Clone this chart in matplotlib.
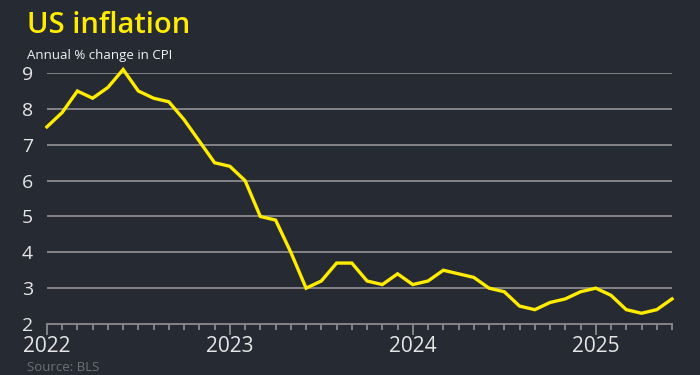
import numpy as np
import matplotlib.pyplot as plt

plt.rcParams['font.family'] = ['Open Sans', 'DejaVu Sans']

# monthly CPI, annual % change, Jan 2022 - Jun 2025
cpi_2022 = [7.5, 7.9, 8.5, 8.3, 8.6, 9.1, 8.5, 8.3, 8.2, 7.7, 7.1, 6.5]
cpi_2023 = [6.4, 6.0, 5.0, 4.9, 4.0, 3.0, 3.2, 3.7, 3.7, 3.2, 3.1, 3.4]
cpi_2024 = [3.1, 3.2, 3.5, 3.4, 3.3, 3.0, 2.9, 2.5, 2.4, 2.6, 2.7, 2.9]
cpi_2025 = [3.0, 2.8, 2.4, 2.3, 2.4, 2.7]
years = [2022, 2023, 2024, 2025]
y_ticks = [2, 3, 4, 5, 6, 7, 8, 9]

cpi = cpi_2022 + cpi_2023 + cpi_2024 + cpi_2025
months = np.arange(len(cpi))

bg = '#262a33'
yellow = '#ffec00'
grid_col = '#8a8a8e'

fig = plt.figure(figsize=(7, 3.75), dpi=100, facecolor=bg)
ax = fig.add_axes([0.067, 0.136, 0.893, 0.669], facecolor=bg)

for v in y_ticks[1:]:
    ax.axhline(v, color=grid_col, lw=1.3, zorder=1)

ax.plot(months, cpi, color=yellow, lw=2.4, zorder=3, clip_on=False, solid_joinstyle='miter')

ax.set_xlim(0, len(cpi) - 1)
ax.set_ylim(2, 9)

for s in ['top', 'right', 'left']:
    ax.spines[s].set_visible(False)
ax.spines['bottom'].set_color(grid_col)
ax.spines['bottom'].set_linewidth(1.3)

major = [(y - 2022) * 12 for y in years]
ax.set_xticks(major)
ax.set_xticklabels([str(y) for y in years])
ax.set_xticks(months, minor=True)
ax.tick_params(axis='x', which='major', length=8, width=1.3, color=grid_col,
               labelcolor='#e6e6e6', labelsize=15, pad=1)
ax.tick_params(axis='x', which='minor', length=4, width=1.3, color=grid_col)

ax.set_yticks(y_ticks)
ax.tick_params(axis='y', length=0, labelcolor='#e6e6e6', labelsize=14, pad=10)

fig.text(0.038, 0.932, 'US inflation', color=yellow, fontsize=21,
         fontweight='semibold', va='center', ha='left')
fig.text(0.038, 0.853, 'Annual % change in CPI', color='#f2f2f2', fontsize=9.5,
         va='center', ha='left')
fig.text(0.038, 0.003, 'Source: BLS', color='#707075', fontsize=9.5,
         va='bottom', ha='left')

fig.savefig('out.png', dpi=100, facecolor=bg)
